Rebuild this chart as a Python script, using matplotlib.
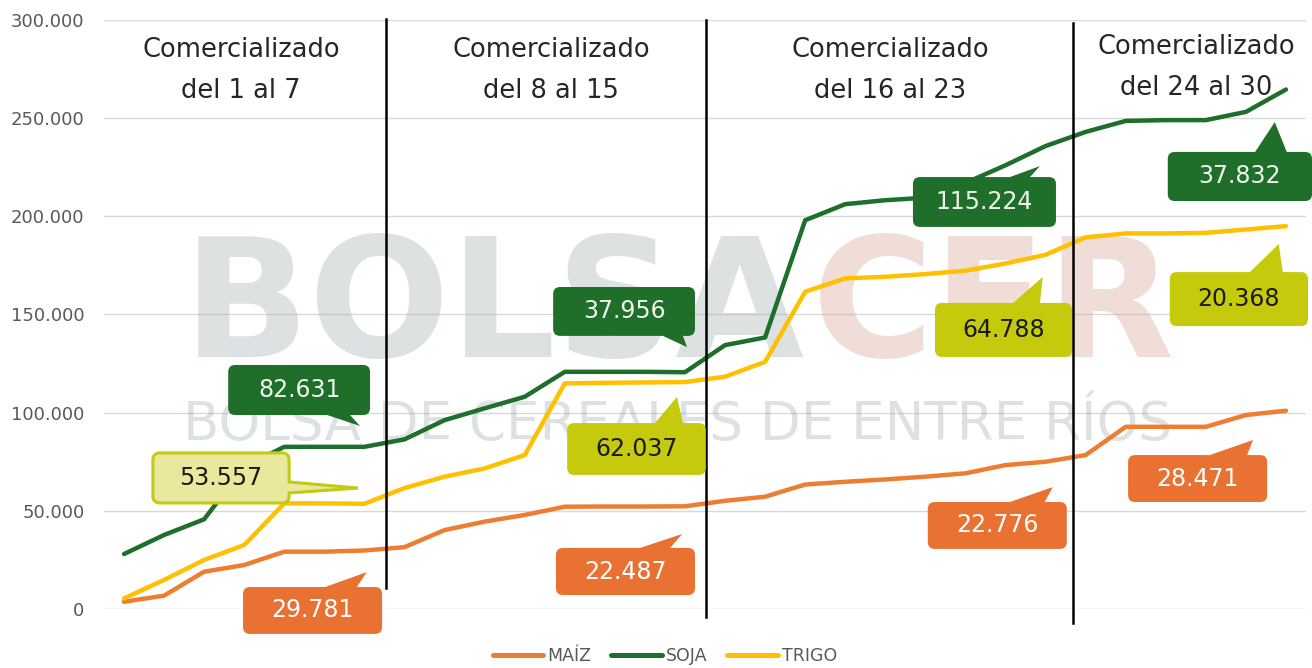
import numpy as np
import matplotlib
matplotlib.use("Agg")
import matplotlib.pyplot as plt
from matplotlib.path import Path
from matplotlib.patches import PathPatch
from matplotlib.transforms import IdentityTransform
from matplotlib.ticker import FuncFormatter

W, H = 1312, 668

# ── data (cumulative tonnes, day 1..30) ─────────────────────
dias = np.arange(30)
maiz = [3700, 6800, 19000, 22400, 29200, 29200, 29800, 31500, 40200, 44500,
        47900, 52100, 52200, 52200, 52300, 55100, 57200, 63400, 64800, 66000,
        67400, 69100, 73300, 75000, 78400, 92800, 92800, 92800, 98800, 101000]
soja = [28000, 37700, 45700, 72500, 82600, 82600, 82600, 86400, 96200, 102200,
        108100, 120800, 120800, 120800, 120600, 134400, 138300, 198000, 206200, 208200,
        209500, 217000, 226000, 235800, 243000, 248600, 249000, 249000, 253200, 264600]
trigo = [5400, 14800, 25000, 32600, 53800, 53800, 53600, 61600, 67400, 71600,
         78400, 114900, 115200, 115400, 115600, 118300, 125900, 161600, 168400, 169200,
         170600, 172300, 176000, 180400, 189300, 191300, 191300, 191600, 193300, 195000]

series = ["MAÍZ", "SOJA", "TRIGO"]
line_colors = {"MAÍZ": "#ED7D31", "SOJA": "#1E6E2C", "TRIGO": "#FFC000"}

periodos = ["Comercializado\ndel 1 al 7", "Comercializado\ndel 8 al 15",
            "Comercializado\ndel 16 al 23", "Comercializado\ndel 24 al 30"]
periodo_x = [2.92, 10.66, 19.12, 26.75]
periodo_y = [274500, 274500, 274500, 276000]

# separators: x position, y top, y bottom
sep_x = [6.54, 14.52, 23.68]
sep_top = [300500, 300000, 298500]
sep_bot = [10700, -4100, -7100]

# callouts: text, style, box (x0, x1, y_top, y_bot), side, base (b1, b2), tip (x, y)
callouts = [
    ("82.631", "soja",  (2.60, 6.14, 124300, 98800), "bottom", (5.07, 5.64), (5.89, 93200)),
    ("53.557", "light", (0.72, 4.12, 79500, 54000), "right", (64700, 59100), (5.84, 61600)),
    ("29.781", "maiz",  (2.97, 6.44, 11200, -12700), "top", (5.02, 5.81), (6.06, 18800)),
    ("37.956", "soja",  (10.71, 14.25, 164000, 139100), "bottom", (13.45, 13.95), (14.05, 133400)),
    ("62.037", "trigo", (11.06, 14.52, 94700, 68300), "top", (13.25, 13.95), (13.80, 108000)),
    ("22.487", "maiz",  (10.78, 14.25, 31100, 7100), "top", (12.88, 13.63), (13.93, 38200)),
    ("115.224", "soja", (19.69, 23.26, 220000, 194600), "top", (22.11, 22.61), (22.86, 225600)),
    ("64.788", "trigo", (20.24, 23.66, 155900, 128400), "top", (22.19, 22.86), (22.93, 169100)),
    ("22.776", "maiz",  (20.06, 23.53, 54500, 30600), "top", (22.11, 22.98), (23.18, 62100)),
    ("37.832", "soja",  (26.05, 29.65, 232800, 207800), "top", (28.23, 29.02), (28.72, 248000)),
    ("20.368", "trigo", (26.10, 29.55, 171600, 144100), "top", (28.10, 28.92), (28.82, 185900)),
    ("28.471", "maiz",  (25.06, 28.53, 78400, 54500), "top", (27.10, 28.03), (28.18, 86100)),
]
styles = {
    "soja":  dict(fc="#1F6F2B", ec="none", tc="#EEF5EE"),
    "maiz":  dict(fc="#E97132", ec="none", tc="white"),
    "trigo": dict(fc="#C6CA0C", ec="none", tc="#1A1A1A"),
    "light": dict(fc="#E9E89C", ec="#C2CA14", tc="#1A1A1A"),
}

fig = plt.figure(figsize=(W / 100, H / 100), dpi=100)
ax = fig.add_axes([104 / W, (H - 609) / H, 1202 / W, 589 / H])
ax.set_xlim(-0.5, 29.5)
ax.set_ylim(0, 300000)
ax.set_yticks(np.arange(0, 300001, 50000))
ax.yaxis.set_major_formatter(FuncFormatter(lambda v, p: f"{v:,.0f}".replace(",", ".")))
ax.tick_params(axis="y", length=0, pad=14, labelsize=13, labelcolor="#595959")
ax.set_xticks([])
ax.grid(axis="y", color="#D9D9D9", lw=1)
ax.set_axisbelow(True)
for s in ax.spines.values():
    s.set_visible(False)

# watermark (figure pixel positions, y from top)
def px(x, y):
    return x / W, 1 - y / H

renderer = fig.canvas.get_renderer()

def fit(t, width):
    w = t.get_window_extent(renderer).width
    t.set_fontsize(t.get_fontsize() * width / w)

wm1 = ax.text(*px(183, 357), "BOLSA", fontsize=100, fontweight="bold",
              color="#9EABAE", alpha=0.35, zorder=1.5, transform=fig.transFigure)
fit(wm1, 622)
wm2 = ax.text(*px(812, 357), "CER", fontsize=wm1.get_fontsize(), fontweight="bold",
              color="#D9A090", alpha=0.35, zorder=1.5, transform=fig.transFigure)
wm3 = ax.text(*px(183, 440), "BOLSA DE CEREALES DE ENTRE RÍOS", fontsize=30,
              color="#9EABAE", alpha=0.35, zorder=1.5, transform=fig.transFigure)
fit(wm3, 990)

for name, vals in zip(series, [maiz, soja, trigo]):
    ax.plot(dias, vals, color=line_colors[name], lw=3.2, label=name,
            solid_joinstyle="round", solid_capstyle="round", zorder=3)

for x, yt, yb in zip(sep_x, sep_top, sep_bot):
    ax.plot([x, x], [yb, yt], color="black", lw=1.8, clip_on=False, zorder=4)

for txt, x, y in zip(periodos, periodo_x, periodo_y):
    ax.text(x, y, txt, ha="center", va="center", fontsize=18.5, color="#262626",
            linespacing=1.75, zorder=5)


def callout_path(x0, y0, x1, y1, r, side, b, tip):
    # display coords, y0 = top (larger), y1 = bottom
    v, c = [], []
    def mv(p): v.append(p); c.append(Path.MOVETO)
    def ln(p): v.append(p); c.append(Path.LINETO)
    def qd(ctrl, p):
        v.extend([ctrl, p]); c.extend([Path.CURVE3, Path.CURVE3])
    mv((x0 + r, y0))
    if side == "top":
        ln((b[0], y0)); ln(tip); ln((b[1], y0))
    ln((x1 - r, y0)); qd((x1, y0), (x1, y0 - r))
    if side == "right":
        ln((x1, b[0])); ln(tip); ln((x1, b[1]))
    ln((x1, y1 + r)); qd((x1, y1), (x1 - r, y1))
    if side == "bottom":
        ln((b[1], y1)); ln(tip); ln((b[0], y1))
    ln((x0 + r, y1)); qd((x0, y1), (x0, y1 + r))
    ln((x0, y0 - r)); qd((x0, y0), (x0 + r, y0))
    v.append((0, 0)); c.append(Path.CLOSEPOLY)
    return Path(v, c)


td = ax.transData
for txt, sty, (bx0, bx1, by0, by1), side, base, tip in callouts:
    X0, Y0 = td.transform((bx0, by0))
    X1, Y1 = td.transform((bx1, by1))
    T = td.transform(tip)
    if side == "right":
        B = (td.transform((0, base[0]))[1], td.transform((0, base[1]))[1])
    else:
        B = (td.transform((base[0], 0))[0], td.transform((base[1], 0))[0])
    st = styles[sty]
    p = callout_path(X0, Y0, X1, Y1, 7, side, B, tuple(T))
    patch = PathPatch(p, facecolor=st["fc"], edgecolor=st["ec"],
                      lw=2.2 if st["ec"] != "none" else 0,
                      transform=IdentityTransform(), zorder=6, clip_on=False)
    ax.add_artist(patch)
    ax.text((bx0 + bx1) / 2, (by0 + by1) / 2, txt, ha="center", va="center",
            fontsize=17, color=st["tc"], zorder=7, clip_on=False)

leg = fig.legend(loc="center", bbox_to_anchor=(665 / W, 12 / H), ncol=3, frameon=False,
                 fontsize=12.5, handlelength=2.9, handletextpad=0.25, columnspacing=1.15)
for l in leg.get_lines():
    l.set_linewidth(3.6)
for t in leg.get_texts():
    t.set_color("#595959")

fig.savefig("out.png", dpi=100)
